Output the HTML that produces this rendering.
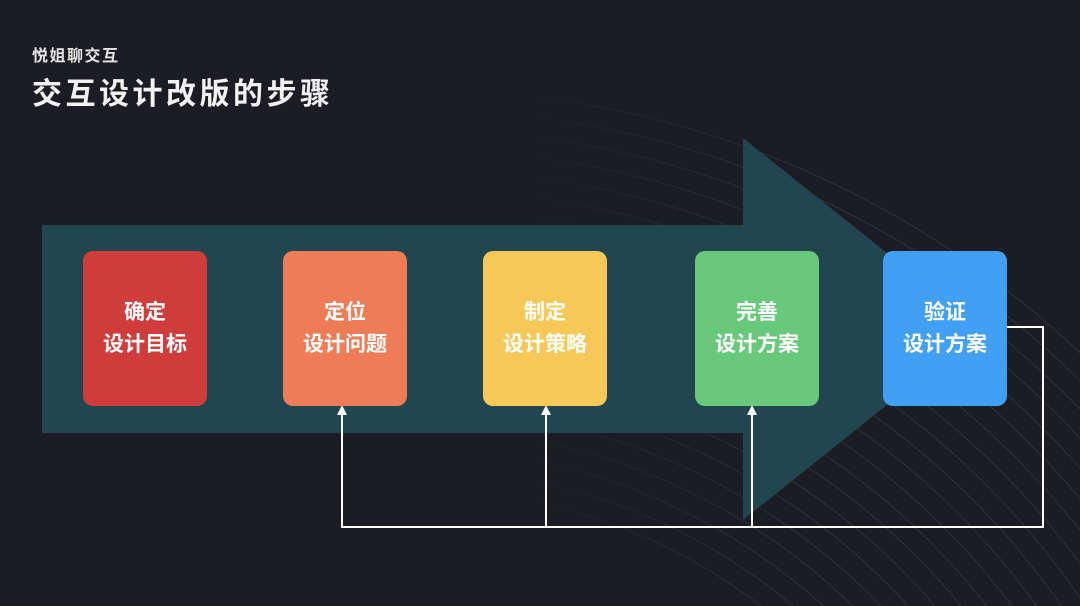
<!DOCTYPE html>
<html><head><meta charset="utf-8"><style>
html,body{margin:0;padding:0;background:#1c1c24;width:1080px;height:606px;overflow:hidden;}
body{position:relative;font-family:"Liberation Sans","Noto Sans CJK SC",sans-serif;}
.t1{position:absolute;left:32px;top:42px;color:#e6e6e6;font-size:16px;font-weight:bold;letter-spacing:1.5px;}
.t2{position:absolute;left:32px;top:69px;color:#f2f2f2;font-size:30px;font-weight:bold;letter-spacing:3.5px;}
.box{position:absolute;top:251px;width:124px;height:155px;border-radius:10px;color:#fff;font-weight:bold;font-size:21px;line-height:32px;text-align:center;box-sizing:border-box;padding-top:46px;}
</style></head><body>
<svg width="1080" height="606" style="position:absolute;left:0;top:0;overflow:hidden">
<defs><linearGradient id="fg" x1="0" x2="1" y1="0" y2="0"><stop offset="0.45" stop-color="#fff" stop-opacity="0"/><stop offset="0.75" stop-color="#fff" stop-opacity="1"/></linearGradient>
<mask id="m"><rect width="1080" height="606" fill="url(#fg)"/></mask></defs>
<g fill="none" stroke="#ffffff" stroke-opacity="0.09" stroke-width="1" mask="url(#m)">
<circle cx="420" cy="1050" r="560"/><circle cx="420" cy="1050" r="580"/><circle cx="420" cy="1050" r="600"/><circle cx="420" cy="1050" r="620"/><circle cx="420" cy="1050" r="640"/><circle cx="420" cy="1050" r="660"/><circle cx="420" cy="1050" r="680"/><circle cx="420" cy="1050" r="700"/><circle cx="420" cy="1050" r="720"/><circle cx="420" cy="1050" r="740"/><circle cx="420" cy="1050" r="760"/><circle cx="420" cy="1050" r="780"/><circle cx="420" cy="1050" r="800"/><circle cx="420" cy="1050" r="820"/><circle cx="420" cy="1050" r="840"/><circle cx="420" cy="1050" r="860"/><circle cx="420" cy="1050" r="880"/><circle cx="420" cy="1050" r="900"/><circle cx="420" cy="1050" r="920"/><circle cx="420" cy="1050" r="940"/><circle cx="420" cy="1050" r="960"/>
</g>
<polygon points="42,225 743,225 743,138 982,329 743,520 743,433 42,433" fill="#22464f"/>
<g stroke="#ffffff" stroke-width="2" fill="none">
<polyline points="1007,327 1043,327 1043,527 342,527 342,410"/>
<line x1="546" y1="527" x2="546" y2="410"/>
<line x1="752" y1="527" x2="752" y2="410"/>
</g>
<g fill="#ffffff">
<polygon points="342,405 337,415 347,415"/>
<polygon points="546,405 541,415 551,415"/>
<polygon points="752,405 747,415 757,415"/>
</g>
</svg>
<div class="t1">悦姐聊交互</div>
<div class="t2">交互设计改版的步骤</div>
<div class="box" style="left:83px;background:#d03c3a">确定<br>设计目标</div>
<div class="box" style="left:283px;background:#ee7d57">定位<br>设计问题</div>
<div class="box" style="left:483px;background:#f5c857">制定<br>设计策略</div>
<div class="box" style="left:695px;background:#68c97a">完善<br>设计方案</div>
<div class="box" style="left:883px;background:#42a0f4">验证<br>设计方案</div>
</body></html>
